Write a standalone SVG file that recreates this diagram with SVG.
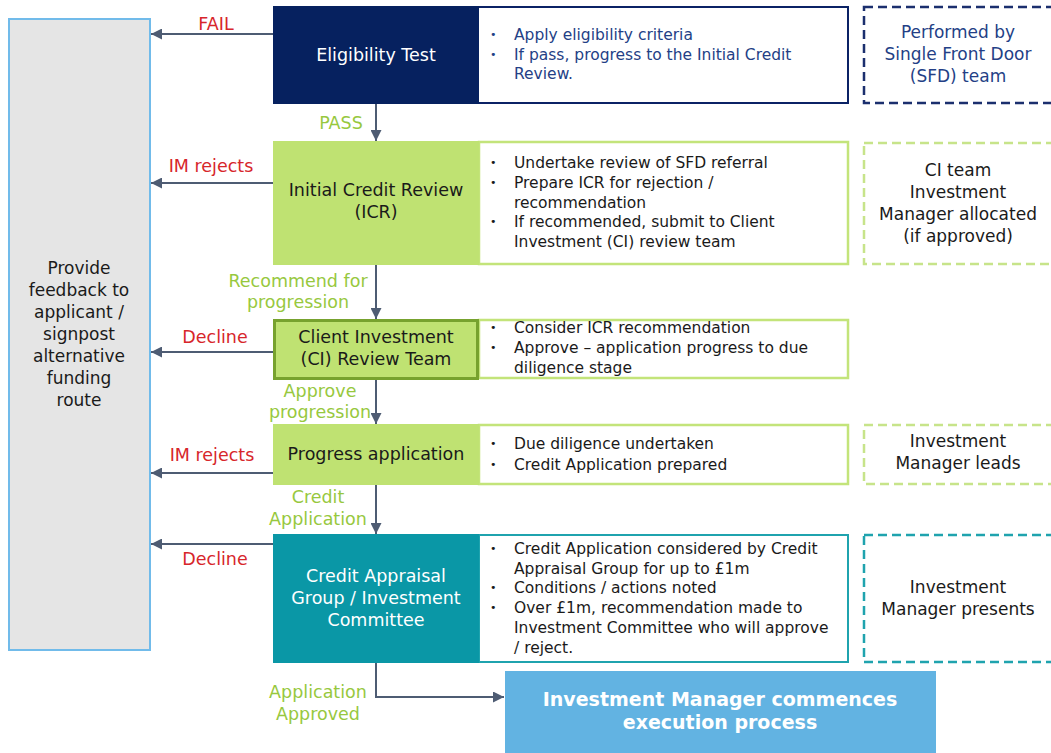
<svg xmlns="http://www.w3.org/2000/svg" width="1051" height="753" viewBox="0 0 1051 753">
<style>
text{font-family:"DejaVu Sans","Verdana",sans-serif}
.nl{font-size:17.5px;text-anchor:middle}
.w{fill:#ffffff}
.k{fill:#1a1a1a}
.d{font-size:15.5px;fill:#1a1a1a}
.dn{font-size:15.5px;fill:#243f86}
.b{font-size:11px}
.side{font-size:17px;text-anchor:middle;fill:#1a1a1a}
.lbl{font-size:17.5px;text-anchor:middle}
.red{fill:#d7262b}
.grn{fill:#97c83e}
.conn{stroke:#4e5c73;stroke-width:2;fill:none}
.dash{fill:none;stroke-width:2.5;stroke-dasharray:9 5}
</style>
<defs>
<marker id="ah" viewBox="0 0 10 10" refX="10" refY="5" markerWidth="5.5" markerHeight="5.5" orient="auto" markerUnits="strokeWidth">
<path d="M0,0 L10,5 L0,10 z" fill="#4e5c73"/>
</marker>
</defs>

<g id="feedback">
<rect x="9" y="19" width="141" height="631" fill="#e5e5e5" stroke="#71bbea" stroke-width="2"/>
<text class="side" x="79" y="274">Provide</text>
<text class="side" x="79" y="296">feedback to</text>
<text class="side" x="79" y="318">applicant /</text>
<text class="side" x="79" y="340">signpost</text>
<text class="side" x="79" y="362">alternative</text>
<text class="side" x="79" y="384">funding</text>
<text class="side" x="79" y="406">route</text>
</g>

<g id="eligibility">
<rect x="274" y="7" width="574" height="96" fill="#ffffff" stroke="#0b2265" stroke-width="2"/>
<rect x="273" y="6" width="206" height="98" fill="#06215f"/>
<text class="nl w" x="376" y="61">Eligibility Test</text>
<text class="dn b" x="490" y="38">•</text>
<text class="dn" x="514" y="40">Apply eligibility criteria</text>
<text class="dn b" x="490" y="58">•</text>
<text class="dn" x="514" y="60">If pass, progress to the Initial Credit</text>
<text class="dn" x="514" y="79">Review.</text>
</g>
<g id="sfd">
<rect class="dash" x="864" y="7" width="200" height="96" stroke="#1b2f6e"/>
<text class="side" x="958" y="38" style="fill:#243f86">Performed by</text>
<text class="side" x="958" y="60" style="fill:#243f86">Single Front Door</text>
<text class="side" x="958" y="82" style="fill:#243f86">(SFD) team</text>
</g>

<g id="icr">
<rect x="479" y="142" width="369" height="122" fill="#ffffff" stroke="#c3e47a" stroke-width="2.5"/>
<rect x="273" y="141" width="206" height="124" fill="#bfe272"/>
<text class="nl k" x="376" y="196">Initial Credit Review</text>
<text class="nl k" x="376" y="218">(ICR)</text>
<text class="d b" x="490" y="166">•</text>
<text class="d" x="514" y="168">Undertake review of SFD referral</text>
<text class="d b" x="490" y="186">•</text>
<text class="d" x="514" y="188">Prepare ICR for rejection /</text>
<text class="d" x="514" y="208">recommendation</text>
<text class="d b" x="490" y="225">•</text>
<text class="d" x="514" y="227">If recommended, submit to Client</text>
<text class="d" x="514" y="247">Investment (CI) review team</text>
</g>
<g id="ci-team">
<rect class="dash" x="864" y="143" width="200" height="121" stroke="#c7e48a"/>
<text class="side" x="958" y="176">CI team</text>
<text class="side" x="958" y="198">Investment</text>
<text class="side" x="958" y="220">Manager allocated</text>
<text class="side" x="958" y="242">(if approved)</text>
</g>

<g id="ci-review">
<rect x="479" y="320" width="369" height="58" fill="#ffffff" stroke="#c3e47a" stroke-width="2.5"/>
<rect x="274.5" y="320.5" width="203" height="58" fill="#bfe272" stroke="#77a22e" stroke-width="3"/>
<text class="nl k" x="376" y="343">Client Investment</text>
<text class="nl k" x="376" y="365">(CI) Review Team</text>
<text class="d b" x="490" y="331">•</text>
<text class="d" x="514" y="333">Consider ICR recommendation</text>
<text class="d b" x="490" y="351">•</text>
<text class="d" x="514" y="353">Approve – application progress to due</text>
<text class="d" x="514" y="373">diligence stage</text>
</g>

<g id="progress">
<rect x="479" y="425" width="369" height="59" fill="#ffffff" stroke="#c3e47a" stroke-width="2.5"/>
<rect x="273" y="424" width="206" height="61" fill="#bfe272"/>
<text class="nl k" x="376" y="460">Progress application</text>
<text class="d b" x="490" y="447">•</text>
<text class="d" x="514" y="449">Due diligence undertaken</text>
<text class="d b" x="490" y="468">•</text>
<text class="d" x="514" y="470">Credit Application prepared</text>
</g>
<g id="im-leads">
<rect class="dash" x="864" y="425" width="200" height="59" stroke="#c7e48a"/>
<text class="side" x="958" y="447">Investment</text>
<text class="side" x="958" y="469">Manager leads</text>
</g>

<g id="credit-appraisal">
<rect x="479" y="535" width="369" height="127" fill="#ffffff" stroke="#1fa3ae" stroke-width="2"/>
<rect x="273" y="534" width="206" height="129" fill="#0a97a6"/>
<text class="nl w" x="376" y="582">Credit Appraisal</text>
<text class="nl w" x="376" y="604">Group / Investment</text>
<text class="nl w" x="376" y="626">Committee</text>
<text class="d b" x="490" y="552">•</text>
<text class="d" x="514" y="554">Credit Application considered by Credit</text>
<text class="d" x="514" y="574">Appraisal Group for up to £1m</text>
<text class="d b" x="490" y="591">•</text>
<text class="d" x="514" y="593">Conditions / actions noted</text>
<text class="d b" x="490" y="611">•</text>
<text class="d" x="514" y="613">Over £1m, recommendation made to</text>
<text class="d" x="514" y="633">Investment Committee who will approve</text>
<text class="d" x="514" y="653">/ reject.</text>
</g>
<g id="im-presents">
<rect class="dash" x="864" y="535" width="200" height="127" stroke="#1fa3ae"/>
<text class="side" x="958" y="593">Investment</text>
<text class="side" x="958" y="615">Manager presents</text>
</g>

<g id="execution">
<rect x="505" y="671" width="431" height="84" fill="#62b3e2"/>
<text x="720" y="706" style="font-size:19px;font-weight:bold;fill:#ffffff;text-anchor:middle">Investment Manager commences</text>
<text x="720" y="729" style="font-size:19px;font-weight:bold;fill:#ffffff;text-anchor:middle">execution process</text>
</g>

<g id="connectors">
<line class="conn" x1="273" y1="34" x2="151" y2="34" marker-end="url(#ah)"/>
<line class="conn" x1="273" y1="183" x2="151" y2="183" marker-end="url(#ah)"/>
<line class="conn" x1="273" y1="352" x2="151" y2="352" marker-end="url(#ah)"/>
<line class="conn" x1="273" y1="473" x2="151" y2="473" marker-end="url(#ah)"/>
<line class="conn" x1="273" y1="544" x2="151" y2="544" marker-end="url(#ah)"/>
<line class="conn" x1="376" y1="104" x2="376" y2="141" marker-end="url(#ah)"/>
<line class="conn" x1="376" y1="265" x2="376" y2="319" marker-end="url(#ah)"/>
<line class="conn" x1="376" y1="380" x2="376" y2="424" marker-end="url(#ah)"/>
<line class="conn" x1="376" y1="485" x2="376" y2="534" marker-end="url(#ah)"/>
<polyline class="conn" points="376,663 376,697 504,697" marker-end="url(#ah)"/>
<text class="lbl red" x="216" y="30">FAIL</text>
<text class="lbl grn" x="341" y="129">PASS</text>
<text class="lbl red" x="211" y="172">IM rejects</text>
<text class="lbl grn" x="298" y="287">Recommend for</text>
<text class="lbl grn" x="298" y="308">progression</text>
<text class="lbl red" x="215" y="343">Decline</text>
<text class="lbl grn" x="320" y="397">Approve</text>
<text class="lbl grn" x="320" y="418">progression</text>
<text class="lbl red" x="212" y="461">IM rejects</text>
<text class="lbl grn" x="318" y="503">Credit</text>
<text class="lbl grn" x="318" y="525">Application</text>
<text class="lbl red" x="215" y="565">Decline</text>
<text class="lbl grn" x="318" y="698">Application</text>
<text class="lbl grn" x="318" y="720">Approved</text>
</g>
</svg>
